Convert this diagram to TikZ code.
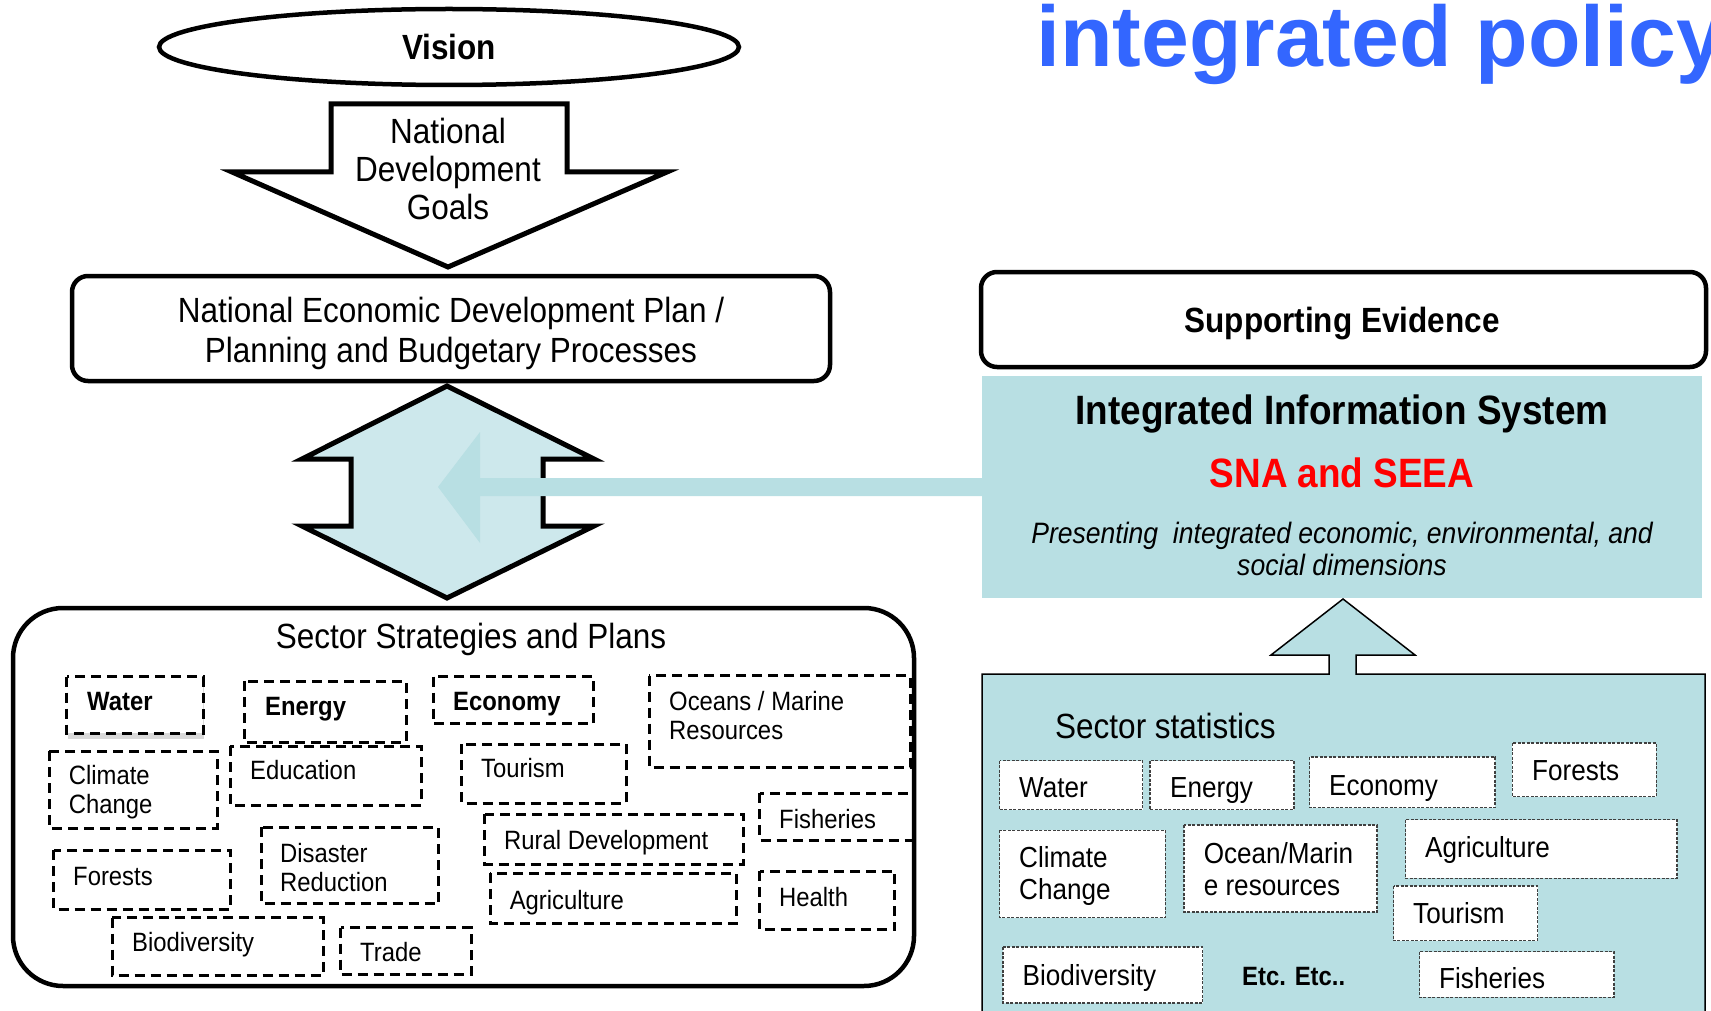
\documentclass[tikz,border=0pt]{standalone}
\usepackage{fontspec}
\setmainfont{Liberation Sans}[FakeStretch=0.9]
\newfontfamily\titlefont{Liberation Sans}
\usetikzlibrary{shapes.geometric,shadows}
\definecolor{panel}{HTML}{B8DFE3}
\definecolor{darrow}{HTML}{CDE8EC}
\definecolor{titleblue}{HTML}{3366FF}
\definecolor{snared}{HTML}{FF0000}
\tikzset{
  big/.style={font=\fontsize{35}{38}\selectfont},
  lfont/.style={font=\fontsize{26.5}{29}\selectfont},
  lbfont/.style={font=\bfseries\fontsize{26.5}{29}\selectfont},
  rfont/.style={font=\fontsize{29}{32}\selectfont},
  lbl/.style={inner sep=0pt, anchor=west, text height=#1, text depth=0pt},
  lbl/.default=19pt,
  mlbl/.style={inner sep=0pt, anchor=west, align=left},
  lbox/.style={draw, line width=3pt, dash pattern=on 10pt off 6pt},
  rbox/.style={draw=black!75, fill=white, line width=1.2pt, dash pattern=on 3pt off 1.5pt},
  thickline/.style={line width=5pt, line join=miter},
}
\begin{document}
\begin{tikzpicture}[x=1pt, y=-1pt]
\useasboundingbox (0,0) rectangle (1711,1011);
\clip (0,0) rectangle (1711,1011);

% title
\node[font=\titlefont\bfseries\fontsize{86}{90}\selectfont, text=titleblue, anchor=base west, inner sep=0pt] (title) at (1036,67) {integrated policy};

% vision
\node[draw, ellipse, line width=4.5pt, minimum width=580pt, minimum height=76pt, font=\bfseries\fontsize{35}{38}\selectfont] (vision) at (449,47) {Vision};

% down arrow
\draw[thickline, fill=white] (331,104) -- (567,104) -- (567,172) -- (667,172) -- (448,267) -- (232,172) -- (331,172) -- cycle;
\node[big, align=center] (ndg) at (448,169) {National\\Development\\Goals};

% plan box
\node[draw, line width=4.5pt, rounded corners=16pt, minimum width=758pt, minimum height=105pt] (nedp) at (451,328.5) {};
\node[font=\fontsize{35}{39.5}\selectfont, align=center] (nedptext) at (451,333.5) {National Economic Development Plan /\\Planning and Budgetary Processes};

% double arrow
\draw[thickline, fill=darrow] (447,386) -- (594,459) -- (543,459) -- (543,526) -- (594,526) -- (447,598) -- (302,526) -- (351,526) -- (351,459) -- (302,459) -- cycle;

% sector strategies box
\node[draw, line width=4.5pt, rounded corners=50pt, minimum width=901pt, minimum height=378pt] (ssp) at (463.5,797) {};
\node[big] (ssptitle) at (471,639) {Sector Strategies and Plans};

% left dashed boxes
\draw[lbox, fill=white, drop shadow={opacity=0.3, shadow xshift=1pt, shadow yshift=-6pt}] (66.6,676.5) rectangle (203,733.3);
\node[lbl, lbfont] (lwater) at (87,700.5) {Water};
\draw[lbox] (244.4,681) rectangle (406,742);
\node[lbl, lbfont] (lenergy) at (265,706) {Energy};
\draw[lbox] (433,676.5) rectangle (593.6,723.5);
\node[lbl, lbfont] (leconomy) at (453,700.5) {Economy};
\draw[lbox] (649,675.5) rectangle (910,767);
\node[mlbl, lfont] (loceans) at (669,716) {Oceans / Marine\\Resources};
\draw[lbox] (49,751) rectangle (217,828);
\node[mlbl, lfont] (lclimate) at (68.7,792) {Climate\\Change};
\draw[lbox] (230,746) rectangle (421,805);
\node[lbl, lfont] (leducation) at (250,770) {Education};
\draw[lbox] (461.6,744) rectangle (626,803);
\node[lbl, lfont] (ltourism) at (481,768) {Tourism};
\draw[lbox] (759.5,793) rectangle (914.5,840);
\node[lbl, lfont] (lfisheries) at (779,818.5) {Fisheries};
\draw[lbox] (484.5,814) rectangle (743,864);
\node[lbl, lfont] (lrural) at (504,840) {Rural Development};
\draw[lbox] (53.5,850) rectangle (230,909);
\node[lbl, lfont] (lforests) at (73,876) {Forests};
\draw[lbox] (261,827) rectangle (438.7,903.5);
\node[mlbl, lfont] (ldisaster) at (280,868) {Disaster\\Reduction};
\draw[lbox] (490,873) rectangle (736.6,923);
\node[lbl, lfont] (lagri) at (509.6,900) {Agriculture};
\draw[lbox] (759.5,871) rectangle (894.8,929.7);
\node[lbl, lfont] (lhealth) at (779,897) {Health};
\draw[lbox] (112.4,917.7) rectangle (323,975.5);
\node[lbl, lfont] (lbio) at (132,941.7) {Biodiversity};
\draw[lbox] (340.5,927.5) rectangle (471.4,974.5);
\node[lbl, lfont] (ltrade) at (360,951.5) {Trade};

% integrated information system panel
\fill[panel] (982,376) rectangle (1702,598);
\node[font=\bfseries\fontsize{41}{44}\selectfont] (iis) at (1342,413.5) {Integrated Information System};
\node[font=\bfseries\fontsize{41}{44}\selectfont, text=snared] (sna) at (1342,473) {SNA and SEEA};
\node[font=\itshape\fontsize{29.5}{32}\selectfont, align=center] (pres) at (1342,549) {Presenting\ \ integrated economic, environmental, and\\social dimensions};

% left-pointing arrow
\fill[panel] (982,478) -- (480,478) -- (480,432) -- (438,487) -- (480,543) -- (480,496) -- (982,496) -- cycle;

% supporting evidence
\node[draw, line width=4.5pt, rounded corners=16pt, minimum width=725pt, minimum height=95pt] (supp) at (1343.5,319.5) {};
\node[font=\bfseries\fontsize{35}{38}\selectfont] (supptext) at (1342,324) {Supporting Evidence};

% sector statistics panel with up arrow
\draw[line width=1.5pt, fill=panel, line join=miter] (982,1020) -- (982,674) -- (1329,674) -- (1329,655) -- (1271,655) -- (1343,599) -- (1415,655) -- (1356,655) -- (1356,674) -- (1705,674) -- (1705,1020);
\node[big, lbl=25pt] (sstat) at (1055,726) {Sector statistics};

\draw[rbox] (999.5,760.6) rectangle (1142.5,809.7);
\node[lbl=21pt, rfont] (rwater) at (1019,787) {Water};
\draw[rbox] (1150,760.6) rectangle (1294,809.7);
\node[lbl=21pt, rfont] (renergy) at (1170,787) {Energy};
\draw[rbox] (1309.5,757) rectangle (1495,807.5);
\node[lbl=21pt, rfont] (reconomy) at (1329,784.5) {Economy};
\draw[rbox] (1512.4,743) rectangle (1656.4,796.6);
\node[lbl=21pt, rfont] (rforests) at (1532,770) {Forests};
\draw[rbox] (999.5,830.4) rectangle (1165.4,917.7);
\node[mlbl, rfont] (rclimate) at (1019,875.5) {Climate\\Change};
\draw[rbox] (1184,825) rectangle (1377,912);
\node[mlbl, rfont] (rocean) at (1203.6,869.5) {Ocean/Marin\\e resources};
\draw[rbox] (1405.5,819.5) rectangle (1677,878.4);
\node[lbl=21pt, rfont] (ragri) at (1425,847) {Agriculture};
\draw[rbox] (1393.5,886) rectangle (1537.5,940.6);
\node[lbl=21pt, rfont] (rtourism) at (1413,913) {Tourism};
\draw[rbox] (1003,947) rectangle (1202.5,1003);
\node[lbl=21pt, rfont] (rbio) at (1022.5,974.5) {Biodiversity};
\node[lbl, lbfont] (retc) at (1242,975.5) {Etc. Etc..};
\draw[rbox] (1419.6,951.5) rectangle (1614,997.4);
\node[lbl=21pt, rfont] (rfish) at (1439,977.7) {Fisheries};
\end{tikzpicture}
\end{document}
